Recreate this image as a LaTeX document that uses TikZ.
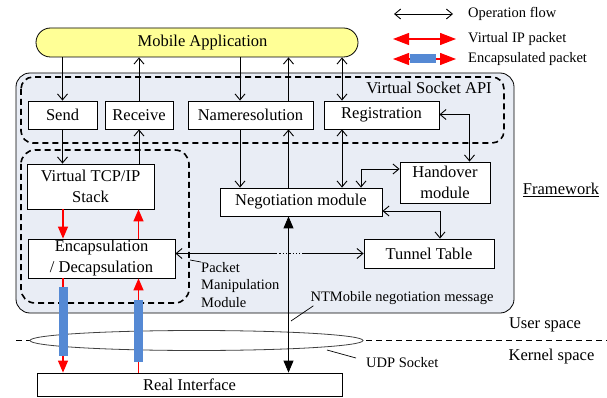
\documentclass[tikz,border=0pt]{standalone}
\usepackage{fontspec}
\setmainfont{Liberation Serif}
\usetikzlibrary{arrows.meta,calc,shapes.geometric}
\definecolor{fwfill}{RGB}{233,237,245}
\definecolor{appfill}{RGB}{255,255,150}
\definecolor{encblue}{RGB}{85,137,212}
\definecolor{pktred}{RGB}{255,0,0}
\newcommand\mainfs{\fontsize{16.5}{21}\selectfont}
\newcommand\notefs{\fontsize{14.5}{17.5}\selectfont}

\begin{document}
\begin{tikzpicture}[x=1pt,y=-1pt,
  box/.style={draw, fill=white, line width=0.8pt, inner sep=0pt, align=center, font=\mainfs},
  note/.style={inner sep=0pt, font=\notefs},
  frame dash/.style={line width=1.6pt, dash pattern=on 6pt off 4pt},
  op/.style={line width=0.9pt, -{Straight Barb[length=6pt,width=10pt]}},
  optwo/.style={line width=0.9pt, {Straight Barb[length=6pt,width=10pt]}-{Straight Barb[length=6pt,width=10pt]}},
  msg/.style={line width=0.9pt, {Triangle[length=12pt,width=10pt]}-{Triangle[length=12pt,width=10pt]}},
  vip/.style={pktred, line width=1.3pt, -{Triangle[length=12pt,width=10pt]}},
  vipleg/.style={pktred, line width=1.3pt, {Triangle[length=16pt,width=12pt]}-{Triangle[length=16pt,width=12pt]}},
  bar/.style={fill=encblue},
  leader/.style={line width=0.7pt}
]
\useasboundingbox (0,0) rectangle (607,398);

% framework container and dashed groups
\draw[fill=fwfill, rounded corners=14pt, line width=0.8pt] (16,73) rectangle (514,313);
\draw[frame dash, rounded corners=12pt] (21,77) rectangle (504,143);
\draw[frame dash, rounded corners=14pt] (21,150) rectangle (189,303);
\node[inner sep=0pt, font=\mainfs] (api) at (429,88) {Virtual Socket API};

% user/kernel boundary and the UDP socket
\draw[frame dash] (16,340.5) -- (607,340.5);
\node[draw=black!75, fill=white, ellipse, line width=0.8pt, minimum width=333pt, minimum height=20pt, inner sep=0pt] (udp) at (196.5,340.5) {};

% application
\node[draw, fill=appfill, rounded corners=14.5pt, minimum width=322pt, minimum height=29pt, line width=0.8pt, inner sep=0pt, font=\mainfs] (app) at (197,42.5) {\hspace*{11pt}Mobile Application};

% modules
\node[box, minimum width=69pt, minimum height=28pt] (send) at (62.5,115) {Send};
\node[box, minimum width=68pt, minimum height=28pt] (recv) at (139,115) {Receive};
\node[box, minimum width=125pt, minimum height=28pt] (nres) at (250.5,115) {Nameresolution};
\node[box, minimum width=115pt, minimum height=28pt] (reg) at (381.5,115) {Registration};
\node[box, minimum width=127pt, minimum height=45pt] (tcp) at (90.5,186.5) {Virtual TCP/IP\\Stack};
\node[box, minimum width=147pt, minimum height=39pt] (enc) at (101.5,258.5) {Encapsulation\\/ Decapsulation};
\node[box, minimum width=162pt, minimum height=28pt] (neg) at (301,202) {Negotiation module};
\node[box, minimum width=90pt, minimum height=41pt] (hand) at (445,182.5) {Handover\\module};
\node[box, minimum width=130pt, minimum height=29pt] (tun) at (429,253.5) {Tunnel Table};
\node[box, minimum width=305pt, minimum height=23pt] (real) at (189.5,384.5) {Real Interface};

% column and bend points
\coordinate (cA) at (63,0);
\coordinate (cB) at (138.5,0);
\coordinate (cC) at (240,0);
\coordinate (cD) at (288.5,0);
\coordinate (cE) at (342,0);
\coordinate (rh) at (469.5,114.5);
\coordinate (hn) at (361,169);
\coordinate (nt) at (440,211);
\coordinate (g1) at (276,0);
\coordinate (g2) at (303,0);

% operation flow
\draw[op] (app.south -| send.north) -- (send.north);
\draw[op] (recv.north) -- (app.south -| recv.north);
\draw[op] (app.south -| cC) -- (nres.north -| cC);
\draw[op] (nres.north -| cD) -- (app.south -| cD);
\draw[optwo] (app.south -| cE) -- (reg.north -| cE);
\draw[op] (send.south) -- (tcp.north -| send.south);
\draw[op] (tcp.north -| recv.south) -- (recv.south);
\draw[op] (nres.south -| cC) -- (neg.north -| cC);
\draw[op] (neg.north -| cD) -- (nres.south -| cD);
\draw[optwo] (reg.south -| cE) -- (neg.north -| cE);
\draw[optwo] (reg.east |- rh) -- (rh) -- (hand.north -| rh);
\draw[optwo] (hand.west |- hn) -- (hn) -- (neg.north -| hn);
\draw[optwo] (neg.east |- nt) -- (nt) -- (tun.north -| nt);
\draw[line width=0.9pt, {Straight Barb[length=6pt,width=10pt]}-] (enc.east |- tun.west) -- (g1 |- tun.west);
\draw[line width=1.3pt, dotted] (g1 |- tun.west) -- (g2 |- tun.west);
\draw[op] (g2 |- tun.west) -- (tun.west);

% virtual IP packets
\draw[vip] (tcp.south -| cA) -- (enc.north -| cA);
\draw[vip] (enc.north -| cB) -- (tcp.south -| cB);

% encapsulated packets through the UDP socket
\draw[vip] (enc.south -| cA) -- (real.north -| cA);
\fill[bar] (59,287) rectangle (68,356);
\draw[vip] (real.north -| cB) -- (enc.south -| cB);
\fill[bar] (134,300) rectangle (143,362);

% negotiation messages
\draw[msg] (neg.south -| cD) -- (real.north -| cD);

% annotations
\node[note, anchor=north west, align=left] (pmm) at (201,262) {Packet\\Manipulation\\Module};
\coordinate (pmmtip) at (190,260);
\draw[leader] (pmmtip) -- (pmm.north west);
\node[note] (ntm) at (402,298) {NTMobile negotiation message};
\coordinate (ntmtip) at (291,321);
\draw[leader] (ntmtip) -- ($(ntm.south west)+(3,1)$);
\node[note, anchor=west] (udplbl) at (366,363) {UDP Socket};
\coordinate (udptip) at (327,350);
\draw[leader] (udptip) -- ($(udplbl.west)+(-10,-5)$);
\node[inner sep=0pt, font=\mainfs] (fw) at (561,190) {\underline{Framework}};
\node[inner sep=0pt, font=\mainfs] (us) at (545,325) {User space};
\node[inner sep=0pt, font=\mainfs] (ks) at (551.5,357) {Kernel space};

% legend
\coordinate (l1a) at (394,14);
\coordinate (l1b) at (453,14);
\draw[optwo] (l1a) -- (l1b);
\node[note, anchor=west] (lg1) at (468,14) {Operation flow};
\coordinate (l2a) at (393,39);
\coordinate (l2b) at (456,39);
\draw[vipleg] (l2a) -- (l2b);
\node[note, anchor=west] (lg2) at (468,39) {Virtual IP packet};
\coordinate (l3a) at (393,59);
\coordinate (l3b) at (456,59);
\draw[vipleg] (l3a) -- (l3b);
\fill[bar] (410,54.5) rectangle (436,63.5);
\node[note, anchor=west] (lg3) at (468,59.5) {Encapsulated packet};
\end{tikzpicture}
\end{document}
